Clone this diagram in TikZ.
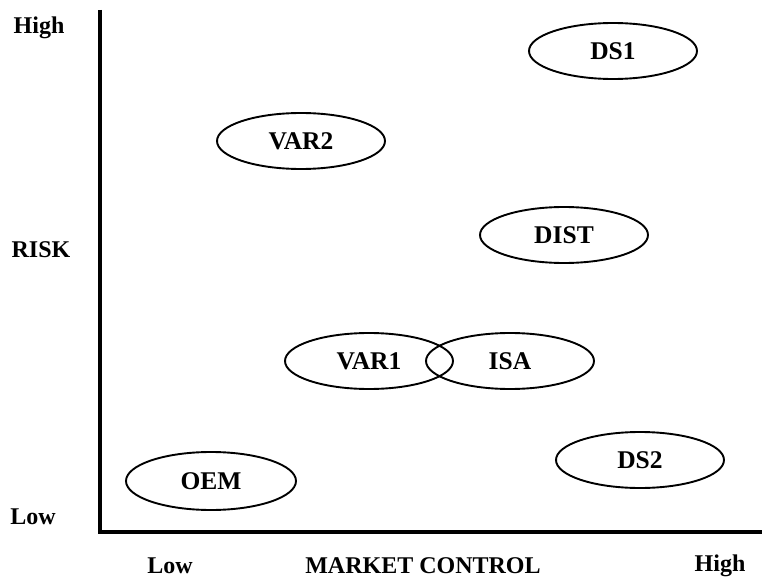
\documentclass[tikz,border=0pt]{standalone}
\usepackage{fontspec}
\setmainfont{Liberation Serif}
\usetikzlibrary{shapes.geometric}
\tikzset{
  quad/.style={ellipse, draw, line width=1.9pt, minimum width=168pt, minimum height=56pt, inner sep=0pt, font=\fontsize{25.5}{28}\selectfont\bfseries},
  lbl/.style={font=\fontsize{24}{27}\selectfont\bfseries, inner sep=0pt},
  axis/.style={line width=3.2pt}
}
\begin{document}
\begin{tikzpicture}[x=1pt,y=-1pt]
\useasboundingbox (0,0) rectangle (771,583);
\coordinate (top) at (100,10);
\coordinate (origin) at (100,532);
\coordinate (right) at (762,532);
\draw[axis] (top) -- (origin) -- (right);
\node[lbl] (yhigh) at (39,28) {High};
\node[lbl] (risk) at (41,250) {RISK};
\node[lbl] (ylow) at (33,517) {Low};
\node[lbl] (xlow) at (170,566) {Low};
\node[lbl] (mc) at (423,566) {MARKET CONTROL};
\node[lbl] (xhigh) at (720,566) {High};
\node[quad] (ds1) at (613,51) {DS1};
\node[quad] (var2) at (301,141) {VAR2};
\node[quad] (dist) at (564,235) {DIST};
\node[quad] (var1) at (369,361) {VAR1};
\node[quad] (isa) at (510,361) {ISA};
\node[quad] (ds2) at (640,460) {DS2};
\node[quad, minimum width=170pt, minimum height=58pt] (oem) at (211,481) {OEM};
\end{tikzpicture}
\end{document}
